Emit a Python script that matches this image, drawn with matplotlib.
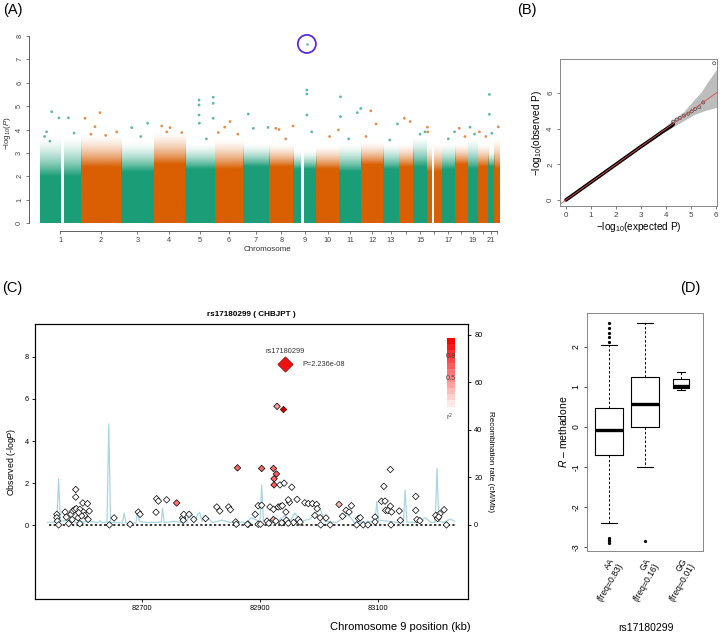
import numpy as np
import matplotlib
matplotlib.use("Agg")
import matplotlib.pyplot as plt
from matplotlib.colors import LinearSegmentedColormap, to_rgb

plt.rcParams["font.family"] = ["Liberation Sans", "DejaVu Sans"]
plt.rcParams["mathtext.fontset"] = "custom"
plt.rcParams["mathtext.rm"] = "Liberation Sans"
plt.rcParams["mathtext.it"] = "Liberation Sans:italic"

W, H = 720, 635
GREEN = "#1b9e77"
ORANGE = "#d95f02"

# ---- (A) Manhattan ----
chrom_names = [str(i) for i in range(1, 23)]
chrom_len_mb = [249, 243, 198, 191, 181, 171, 159, 146, 141, 136, 135,
                134, 96, 88, 82, 90, 81, 78, 59, 63, 38, 35]
dense_top = [2.0, 2.4, 2.2, 2.5, 2.3, 2.3, 2.4, 2.4, 2.3, 2.3, 2.2,
             2.5, 2.3, 2.4, 2.4, 2.2, 2.3, 2.5, 2.3, 2.4, 2.4, 2.3]
sparse_top = [3.7, 3.8, 3.5, 3.9, 3.4, 3.6, 3.4, 3.4, 3.1, 3.3, 3.4,
              3.5, 3.4, 3.4, 3.7, 3.4, 3.4, 3.4, 3.6, 3.4, 3.1, 3.6]
gaps = [(1, 125, 143), (9, 47, 65), (16, 30, 44)]
tick_shown = ["1", "2", "3", "4", "5", "6", "7", "8", "9", "10", "11",
              "12", "13", "15", "17", "19", "21"]

hit_chr = [1, 1, 1, 1, 1, 1, 1, 2, 2, 2, 2, 2, 2, 3, 3, 3, 4, 4, 4, 4,
           5, 5, 5, 5, 5, 5, 5, 5, 6, 6, 6, 6, 7, 7, 7, 8, 8, 8, 8,
           9, 9, 9, 9, 10, 10, 11, 11, 11, 11, 11, 12, 12, 12, 13, 13,
           14, 14, 15, 15, 16, 16, 17, 17, 18, 18, 19, 19, 20, 20,
           21, 21, 21, 22]
hit_pos = [71, 115, 40, 172, 207, 28, 60, 24, 115, 85, 217, 60, 150, 65, 162, 120, 49, 100, 171, 80,
           85, 85, 85, 87, 171, 171, 171, 130, 21, 92, 60, 140, 32, 63, 152, 60, 40, 145, 100,
           82.9, 82.9, 82.9, 112, 133, 80, 10, 10, 112, 133, 60, 59, 91, 30, 87, 40,
           33, 68, 40, 70, 3, 5, 78, 40, 25, 60, 13, 40, 11, 50,
           8.5, 8.5, 23, 25]
hit_logp = [4.76, 4.5, 3.9, 4.5, 3.85, 3.7, 3.5, 4.48, 4.72, 4.12, 3.9, 3.8, 3.75, 4.08, 4.27, 3.7, 4.15, 4.08, 3.87, 3.9,
            5.26, 5.05, 4.62, 4.27, 5.38, 5.12, 4.48, 3.6, 3.87, 4.34, 4.1, 3.8, 4.66, 4.05, 4.09, 4.0, 4.05, 4.15, 3.6,
            5.69, 5.52, 4.62, 3.9, 3.98, 3.7, 5.4, 4.55, 4.72, 4.9, 3.6, 4.8, 4.24, 3.7, 4.24, 3.55,
            4.48, 4.34, 3.8, 3.9, 4.1, 3.9, 3.9, 3.6, 4.05, 3.7, 4.1, 3.8, 3.9, 3.7,
            5.5, 4.65, 3.84, 4.11]
peak_chr, peak_pos, peak_logp = 9, 82.9, 7.66

# ---- (B) QQ ----
qq_exp = [0.0, 0.3, 0.6, 1.0, 1.5, 2.0, 2.5, 3.0, 3.5, 3.8, 4.0, 4.2, 4.29]
qq_obs = [0.0, 0.3, 0.6, 1.0, 1.5, 2.0, 2.5, 3.0, 3.48, 3.78, 3.97, 4.15, 4.25]
tail_exp = [4.29, 4.43, 4.56, 4.72, 4.89, 5.03, 5.16, 5.33, 5.49, 5.93]
tail_obs = [4.40, 4.52, 4.61, 4.74, 4.85, 4.98, 5.11, 5.22, 5.48, 7.68]
band_x = [3.7, 4.3, 4.7, 5.1, 5.4, 5.65, 6.05]
band_hi = [3.78, 4.55, 4.95, 5.6, 6.05, 6.6, 7.4]
band_lo = [3.62, 4.12, 4.45, 4.78, 4.95, 5.06, 5.21]

# ---- (C) regional plot ----
snp_kb = [82556, 82556, 82557, 82559, 82570, 82572, 82576, 82580, 82582, 82583,
          82586, 82588, 82588, 82589, 82592, 82595, 82595, 82600, 82601, 82603,
          82608, 82611, 82609, 82598, 82593, 82645, 82653, 82680, 82694, 82697,
          82724, 82725, 82728, 82742, 82759, 82769, 82770, 82771, 82780, 82788,
          82808, 82827, 82832, 82847, 82850, 82862, 82859, 82860, 82880, 82903,
          82923, 82928, 82924, 82924, 82934, 82941, 82954, 82892, 82897, 82903,
          82879, 82897, 82901, 82917, 82923, 82923, 82927, 82931, 82935, 82938,
          82944, 82945, 82950, 82948, 82957, 82963, 82965, 82968, 82976, 82982,
          82989, 82996, 82993, 82997, 83002, 83003, 83012, 83019, 83034, 83040,
          83046, 83051, 83055, 83064, 83067, 83070, 83075, 83083, 83095, 83095,
          83106, 83110, 83112, 83113, 83117, 83121, 83121, 83123, 83122, 83136,
          83138, 83164, 83164, 83166, 83171, 83198, 83201, 83205, 83203, 83212,
          83216, 82929, 82912, 82915, 82937, 82948]
snp_logp = [0.52, 0.36, 0.20, 0.02, 0.63, 0.39, 0.08, 0.52, 0.27, 0.68,
            0.74, 1.70, 1.34, 0.79, 0.36, 0.76, 0.08, 1.06, 0.63, 0.47,
            1.03, 0.68, 0.28, 0.45, 0.60, 0.02, 0.35, 0.05, 0.63, 0.52,
            0.62, 1.26, 1.15, 1.21, 1.06, 0.35, 0.24, 0.52, 0.52, 0.28,
            0.32, 0.87, 0.68, 0.87, 0.74, 2.73, 0.16, 0.05, 0.05, 2.70,
            2.70, 2.44, 2.21, 1.92, 1.92, 2.00, 1.81, 0.52, 0.93, 0.95,
            0.05, 0.05, 0.05, 0.87, 0.76, 0.27, 0.20, 0.87, 0.90, 0.93,
            0.63, 0.24, 1.09, 1.21, 0.13, 1.23, 0.27, 0.15, 1.07, 1.03,
            1.03, 0.99, 0.47, 0.79, 0.36, 0.02, 0.35, 0.02, 0.99, 0.43,
            0.71, 0.63, 0.93, 0.02, 0.32, 0.36, 0.02, 0.02, 0.39, 0.16,
            1.14, 1.85, 1.15, 0.71, 0.70, 2.65, 0.91, 0.63, 0.02, 0.68,
            0.24, 1.37, 0.71, 0.27, 0.22, 0.47, 0.32, 0.55, 0.40, 0.74,
            0.02, 5.65, 0.20, 0.10, 0.12, 0.10]
snp_r2 = [0, 0, 0, 0, 0, 0, 0, 0, 0, 0,
          0, 0.05, 0, 0, 0, 0, 0, 0, 0, 0,
          0, 0, 0, 0, 0.05, 0, 0, 0, 0, 0,
          0, 0, 0, 0, 0.55, 0, 0, 0, 0, 0,
          0, 0, 0, 0, 0, 0.6, 0, 0, 0, 0.6,
          0.6, 0.65, 0.6, 0.65, 0, 0, 0, 0, 0, 0,
          0, 0, 0, 0, 0, 0.3, 0, 0, 0, 0,
          0, 0, 0, 0, 0, 0, 0, 0, 0, 0,
          0, 0, 0, 0, 0, 0, 0, 0, 0.3, 0,
          0, 0, 0, 0, 0, 0, 0, 0, 0, 0,
          0, 0, 0, 0, 0, 0, 0, 0, 0, 0,
          0, 0, 0, 0, 0, 0, 0, 0, 0, 0,
          0, 0.4, 0, 0, 0, 0]
lead_name = "rs17180299"
lead_kb, lead_logp, lead_p = 82943, 7.65, "2.236e-08"
proxy_kb, proxy_logp = 82939.5, 5.5

rec_kb = [82540, 82556, 82559, 82562, 82575, 82590, 82610, 82626, 82629, 82632,
          82641, 82644, 82647, 82660, 82667, 82670, 82673, 82690, 82693, 82696,
          82710, 82733, 82735, 82738, 82755, 82768, 82772, 82776, 82782, 82790,
          82795, 82798, 82802, 82806, 82820, 82836, 82850, 82865, 82878, 82885,
          82900, 82903, 82906, 82915, 82922, 82930, 82942, 82950, 82959, 82970,
          82985, 83002, 83010, 83030, 83049, 83060, 83080, 83095, 83098, 83101,
          83120, 83135, 83143, 83146, 83149, 83165, 83180, 83190, 83197, 83200,
          83203, 83212, 83222, 83230]
rec_rate = [1.0, 1.2, 19.4, 1.5, 2.0, 1.0, 1.5, 1.0, 1.7, 1.0,
            1.2, 42.5, 1.0, 1.0, 0.8, 5.0, 0.8, 0.8, 5.6, 1.5,
            1.0, 1.2, 7.0, 1.0, 1.5, 1.0, 3.5, 1.2, 5.3, 2.0,
            4.5, 5.3, 1.5, 4.0, 1.0, 2.0, 1.0, 1.2, 1.0, 3.0,
            1.5, 16.8, 2.0, 1.0, 3.5, 1.5, 4.0, 1.2, 5.0, 1.5,
            2.5, 6.9, 1.5, 1.0, 4.5, 1.0, 1.2, 1.5, 9.8, 2.0,
            1.5, 1.0, 1.0, 14.7, 1.2, 1.0, 3.0, 1.0, 1.2, 23.9,
            1.5, 1.0, 2.5, 1.5]

# ---- (D) boxplot ----
geno_labels = ["AA\n(freq=0.83)", "GA\n(freq=0.16)", "GG\n(freq=0.01)"]
box_med = [-0.07, 0.58, 1.03]
box_q1 = [-0.70, 0.00, 0.97]
box_q3 = [0.47, 1.26, 1.20]
box_wlo = [-2.40, -1.00, 0.92]
box_whi = [2.04, 2.60, 1.37]
box_out = [[2.13, 2.25, 2.36, 2.48, 2.60, -2.77, -2.82, -2.86, -2.90], [-2.85], []]
box_width = [0.8, 0.8, 0.44]


def fax(l, t, r, b):
    return fig.add_axes([l / W, 1 - b / H, (r - l) / W, (b - t) / H])


def ftext(x, y, s, **kw):
    fig.text(x / W, 1 - y / H, s, **kw)


fig = plt.figure(figsize=(7.2, 6.35), dpi=100)

# ================= (A) =================
axA = fax(29, 30, 505, 235)
offsets = np.concatenate([[0], np.cumsum(chrom_len_mb)[:-1]])
total = float(sum(chrom_len_mb))
mids = offsets + np.array(chrom_len_mb) / 2.0

for i, L in enumerate(chrom_len_mb):
    col = to_rgb(GREEN if i % 2 == 0 else ORANGE)
    cuts = sorted((a, b) for c, a, b in gaps if c == i + 1)
    segs, s = [], 0
    for a, b in cuts:
        segs.append((s, a))
        s = b
    segs.append((s, L))
    d, sp = dense_top[i], sparse_top[i]
    # solid core, then a fade where the points thin out
    ys = np.linspace(0, sp, 300)
    alpha = np.clip((sp - ys) / (sp - d), 0, 1) ** 1.6
    img = np.zeros((len(ys), 1, 4))
    img[:, 0, :3] = col
    img[:, 0, 3] = alpha
    for a, b in segs:
        axA.imshow(img, origin="lower", extent=(offsets[i] + a, offsets[i] + b, 0, sp),
                   aspect="auto", interpolation="bilinear", zorder=1)

hx = [offsets[c - 1] + p for c, p in zip(hit_chr, hit_pos)]
hc = [GREEN if c % 2 == 1 else ORANGE for c in hit_chr]
axA.scatter(hx, hit_logp, s=4, c=hc, lw=0, alpha=0.7, zorder=2)
px = offsets[peak_chr - 1] + peak_pos
axA.scatter([px], [peak_logp], s=4, c=GREEN, lw=0, alpha=0.6, zorder=2)
axA.scatter([px], [peak_logp], s=170, facecolors="none", edgecolors="#5a2be0", lw=1.3, zorder=3)

sc = 460.0 / total
axA.set_xlim(-11 / sc, 465 / sc)
axA.set_ylim(-12 / 23.375, 193 / 23.375)
for sp_ in ["top", "right"]:
    axA.spines[sp_].set_visible(False)
axA.spines["left"].set_bounds(0, 8)
axA.spines["bottom"].set_position(("data", -8 / 23.375))
axA.spines["bottom"].set_bounds(mids[0], mids[-1])
for sp_ in ["left", "bottom"]:
    axA.spines[sp_].set_color("#444444")
    axA.spines[sp_].set_linewidth(0.6)
axA.set_yticks(range(0, 9))
axA.set_yticklabels([str(v) for v in range(0, 9)], rotation=90, va="center")
axA.set_xticks(mids)
axA.set_xticklabels([n if n in tick_shown else "" for n in chrom_names])
axA.tick_params(labelsize=5.3, length=2.2, width=0.5, colors="#444444", pad=2)
axA.set_xlabel("Chromosome", fontsize=5.8, color="#333333", labelpad=1.5)
axA.set_ylabel(r"$-\mathrm{log}_{10}(P)$", fontsize=5.8, color="#333333", labelpad=2)

# ================= (B) =================
axB = fax(560, 59, 717, 206)
axB.fill_between(band_x, band_lo, band_hi, color="#bdbdbd", lw=0)
axB.plot(qq_exp, qq_obs, color="black", lw=2.6, solid_capstyle="round")
axB.scatter(tail_exp, tail_obs, s=5, facecolors="none", edgecolors="#444444", lw=0.5)
axB.axline((0, 0), slope=1, color="#e34a4a", lw=0.6)
axB.set_xlim(-0.24, 6.04)
axB.set_ylim(-0.34, 7.92)
axB.set_xticks(range(0, 7))
axB.set_yticks([0, 2, 4, 6])
axB.set_yticklabels(["0", "2", "4", "6"], rotation=90, va="center")
axB.tick_params(labelsize=5.8, length=2.2, width=0.5, colors="#444444", pad=2)
for sp_ in axB.spines.values():
    sp_.set_color("#888888")
    sp_.set_linewidth(0.7)
axB.set_xlabel(r"$-\mathrm{log}_{10}$(expected P)", fontsize=7.2, labelpad=1)
axB.set_ylabel(r"$-\mathrm{log}_{10}$(observed P)", fontsize=7.2, labelpad=2)

# ================= (C) =================
axC = fax(35, 324, 468, 599)
axR = axC.twinx()
axC.set_zorder(axR.get_zorder() + 1)
axC.patch.set_visible(False)
axR.plot(rec_kb, rec_rate, color="#a9d6e5", lw=0.9)
axR.set_ylim(-31.2, 84.6)
axR.set_yticks([0, 20, 40, 60, 80])
axR.tick_params(labelsize=5.3, length=2.5, width=0.6, pad=2)
axR.set_ylabel("Recombination rate (cM/Mb)", fontsize=5.8, rotation=270, labelpad=8)

ld_cmap = LinearSegmentedColormap.from_list("ld", ["#ffffff", "#ff0000"])
axC.hlines(0, min(snp_kb) - 14, max(snp_kb) + 14, colors="black", linestyles=(0, (1.5, 1.5)), lw=1.1)
axC.scatter(snp_kb, snp_logp, c=snp_r2, cmap=ld_cmap, vmin=0, vmax=1,
            marker="D", s=11, edgecolors="black", linewidths=0.5, zorder=3)
axC.scatter([proxy_kb], [proxy_logp], marker="D", s=11, c="#c40000",
            edgecolors="#600000", linewidths=0.5, zorder=3)
axC.scatter([lead_kb], [lead_logp], marker="D", s=60, c="#ee1111",
            edgecolors="#990000", linewidths=0.5, zorder=4)
axC.annotate(lead_name, (lead_kb, lead_logp), xytext=(0, 6.5), textcoords="offset points",
             ha="center", va="bottom", fontsize=5.3, color="#333333")
axC.annotate("P=" + lead_p, (lead_kb, lead_logp), xytext=(12, 0), textcoords="offset points",
             ha="left", va="center", fontsize=5.3, color="#333333")
axC.set_xlim(82519, 83252.5)
axC.set_ylim(-3.5, 9.56)
axC.set_yticks([0, 2, 4, 6, 8])
axC.set_xticks([82700, 82900, 83100])
axC.tick_params(labelsize=5.3, length=2.5, width=0.6, pad=2)
for sp_ in axC.spines.values():
    sp_.set_linewidth(0.8)
axC.set_ylabel("Observed (-log$P$)", fontsize=6.3, labelpad=5)
axC.set_title("rs17180299 ( CHBJPT )", fontsize=5.9, fontweight="bold", pad=6)
ftext(471, 627, "Chromosome 9 position (kb)", fontsize=8, ha="right", va="center")

# r^2 legend bar
axL = fax(447, 338, 455, 413)
axL.imshow(np.linspace(1, 0, 12)[:, None], cmap=ld_cmap, vmin=0, vmax=1, aspect="auto")
axL.axis("off")
ftext(451, 357, "0.8", fontsize=5.3, ha="center", va="center", color="#444444")
ftext(451, 379, "0.5", fontsize=5.3, ha="center", va="center", color="#444444")
ftext(450, 417, "r$^2$", fontsize=5.3, ha="center", va="center", color="#444444")

# ================= (D) =================
axD = fax(587, 313, 703, 551)
stats = []
for i in range(3):
    stats.append(dict(med=box_med[i], q1=box_q1[i], q3=box_q3[i],
                      whislo=box_wlo[i], whishi=box_whi[i], fliers=box_out[i]))
axD.bxp(stats, positions=[1, 2, 3], widths=box_width, showfliers=True,
        boxprops=dict(color="black", lw=0.8),
        medianprops=dict(color="black", lw=2.4),
        whiskerprops=dict(color="black", lw=0.7, linestyle=(0, (2.5, 2))),
        capprops=dict(color="black", lw=0.8),
        capwidths=[w * 0.55 for w in box_width],
        flierprops=dict(marker="o", markersize=1.3, markerfacecolor="black",
                        markeredgecolor="black", lw=0))
axD.set_xlim(1 - 22 / 36, 3 + 22 / 36)
axD.set_ylim(-3.1, 2.85)
axD.set_yticks([-3, -2, -1, 0, 1, 2])
axD.set_yticklabels(["-3", "-2", "-1", "0", "1", "2"], rotation=90, va="center")
axD.set_xticks([1, 2, 3])
axD.set_xticklabels(geno_labels, rotation=60, ha="right", rotation_mode="anchor",
                    fontsize=6.2, linespacing=1.0)
axD.tick_params(axis="y", labelsize=6.2, length=2.5, width=0.5, pad=2)
axD.tick_params(axis="x", length=0, pad=4)
for sp_ in axD.spines.values():
    sp_.set_color("#888888")
    sp_.set_linewidth(0.7)
axD.set_ylabel("$R$ \u2013 methadone", fontsize=7.5, labelpad=2)
ftext(646, 628, "rs17180299", fontsize=7.5, ha="center", va="center")

# panel letters
ftext(3, 10, "(A)", fontsize=10.5, ha="left", va="center")
ftext(517, 10, "(B)", fontsize=10.5, ha="left", va="center")
ftext(2, 288, "(C)", fontsize=10.5, ha="left", va="center")
ftext(680, 288, "(D)", fontsize=10.5, ha="left", va="center")

fig.savefig("out.png", dpi=100)
